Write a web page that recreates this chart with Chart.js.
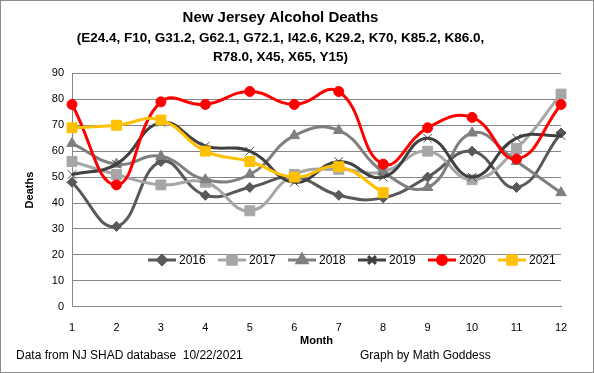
<!DOCTYPE html>
<html>
<head>
<meta charset="utf-8">
<script src="https://cdn.jsdelivr.net/npm/chart.js@4.4.1/dist/chart.umd.min.js"></script>
<style>
  html, body { margin: 0; padding: 0; background: #fff; }
  #wrap { width: 594px; height: 373px; }
</style>
</head>
<body>
<div id="wrap"><canvas id="myChart" width="594" height="373"></canvas></div>
<script>
const months = ['1', '2', '3', '4', '5', '6', '7', '8', '9', '10', '11', '12'];
const yearLabels = ['2016', '2017', '2018', '2019', '2020', '2021'];

const deaths2016 = [48, 31, 56, 43, 46, 50, 43, 42, 50, 60, 46, 67];
const deaths2017 = [56, 51, 47, 48, 37, 51, 53, 52, 60, 49, 61, 82];
const deaths2018 = [63, 55, 58, 49, 51, 66, 68, 52, 46, 67, 56, 44];
const deaths2019 = [51, 55, 71, 62, 60, 48, 56, 50, 65, 50, 65, 66];
const deaths2020 = [78, 47, 79, 78, 83, 78, 83, 55, 69, 73, 57, 78];
const deaths2021 = [69, 70, 72, 60, 56, 50, 54, 44];

const titleLines = ['(E24.4, F10, G31.2, G62.1, G72.1, I42.6, K29.2, K70, K85.2, K86.0,', 'R78.0, X45, X65, Y15)'];

const FONT = "'Liberation Sans', Arial, sans-serif";
const ctx = document.getElementById('myChart');

function series(label, data, color, style, radius, idx) {
    return {
        label: label,
        data: data,
        borderColor: color,
        backgroundColor: color,
        borderWidth: 3,
        tension: 0.45,
        pointStyle: style,
        pointRadius: radius,
        pointBackgroundColor: color,
        pointBorderColor: color,
        pointBorderWidth: 1,
        order: 6 - idx
    };
}

// frame, axis title, footer notes and the legend inside the plot
const extras = {
    id: 'extras',
    beforeDraw(chart) {
        const c = chart.ctx;
        c.save();
        c.fillStyle = '#fff';
        c.fillRect(0, 0, chart.width, chart.height);
        c.restore();
    },
    afterDatasetsDraw(chart) {
        const c = chart.ctx;
        c.save();
        let x = 148;
        const y = 260;
        c.font = '12px ' + FONT;
        c.textBaseline = 'middle';
        chart.data.datasets.forEach(ds => {
            c.strokeStyle = ds.borderColor;
            c.lineWidth = 3;
            c.beginPath();
            c.moveTo(x, y);
            c.lineTo(x + 28, y);
            c.stroke();
            Chart.helpers.drawPoint(c, {
                pointStyle: ds.pointStyle,
                radius: ds.pointStyle === 'rect' ? 6 : ds.pointRadius - 0.5,
                borderWidth: 1,
                rotation: 0
            }, x + 14, y);
            c.fillStyle = ds.borderColor;
            c.fill();
            c.fillStyle = '#000';
            c.fillText(ds.label, x + 31, y + 1);
            x += 70;
        });
        c.restore();
    },
    afterDraw(chart) {
        const c = chart.ctx;
        const area = chart.chartArea;
        c.save();
        c.strokeStyle = '#8c8c8c';
        c.lineWidth = 1;
        c.strokeRect(0.5, 0.5, chart.width - 1, chart.height - 1);
        c.fillStyle = '#000';
        c.textBaseline = 'middle';
        c.textAlign = 'center';
        c.font = 'bold 11px ' + FONT;
        c.fillText('Month', (area.left + area.right) / 2, 341);
        c.textAlign = 'left';
        c.font = '12px ' + FONT;
        c.fillText('Data from NJ SHAD database  10/22/2021', 16, 356);
        c.fillText('Graph by Math Goddess', 360, 356);
        c.restore();
    }
};

new Chart(ctx, {
    type: 'line',
    data: {
        labels: months,
        datasets: [
            series(yearLabels[0], deaths2016, '#595959', 'rectRot', 5, 0),
            series(yearLabels[1], deaths2017, '#a6a6a6', 'rect', 7, 1),
            series(yearLabels[2], deaths2018, '#7f7f7f', 'triangle', 6, 2),
            series(yearLabels[3], deaths2019, '#404040', 'crossRot', 6, 3),
            series(yearLabels[4], deaths2020, '#ff0000', 'circle', 5, 4),
            series(yearLabels[5], deaths2021, '#ffc000', 'rect', 7, 5)
        ]
    },
    options: {
        responsive: false,
        animation: false,
        devicePixelRatio: 1,
        layout: {
            padding: { left: 0, right: 33, top: 0, bottom: 23 }
        },
        plugins: {
            legend: { display: false },
            tooltip: { enabled: false },
            title: {
                display: true,
                text: 'New Jersey Alcohol Deaths',
                color: '#000',
                font: { family: FONT, size: 15, weight: 'bold', lineHeight: 1.2 },
                padding: { top: 9, bottom: 1 }
            },
            subtitle: {
                display: true,
                text: titleLines,
                color: '#000',
                font: { family: FONT, size: 13.5, weight: 'bold', lineHeight: 1.42 },
                padding: { top: 1, bottom: 6 }
            }
        },
        scales: {
            x: {
                offset: false,
                grid: { display: false, drawTicks: false },
                border: { display: true, color: '#868686', width: 1 },
                ticks: { color: '#000', font: { family: FONT, size: 11 }, padding: 15, maxRotation: 0 }
            },
            y: {
                min: 0,
                max: 90,
                afterFit(scale) { scale.width = 72; },
                grid: { color: '#868686', lineWidth: 1, drawTicks: false },
                border: { display: true, color: '#868686', width: 1 },
                ticks: { stepSize: 10, color: '#000', font: { family: FONT, size: 11 }, padding: 8 },
                title: {
                    display: true,
                    text: 'Deaths',
                    color: '#000',
                    font: { family: FONT, size: 11, weight: 'bold', lineHeight: 1.2 },
                    padding: { top: 23, bottom: 0 }
                }
            }
        }
    },
    plugins: [extras]
});
</script>
</body>
</html>
